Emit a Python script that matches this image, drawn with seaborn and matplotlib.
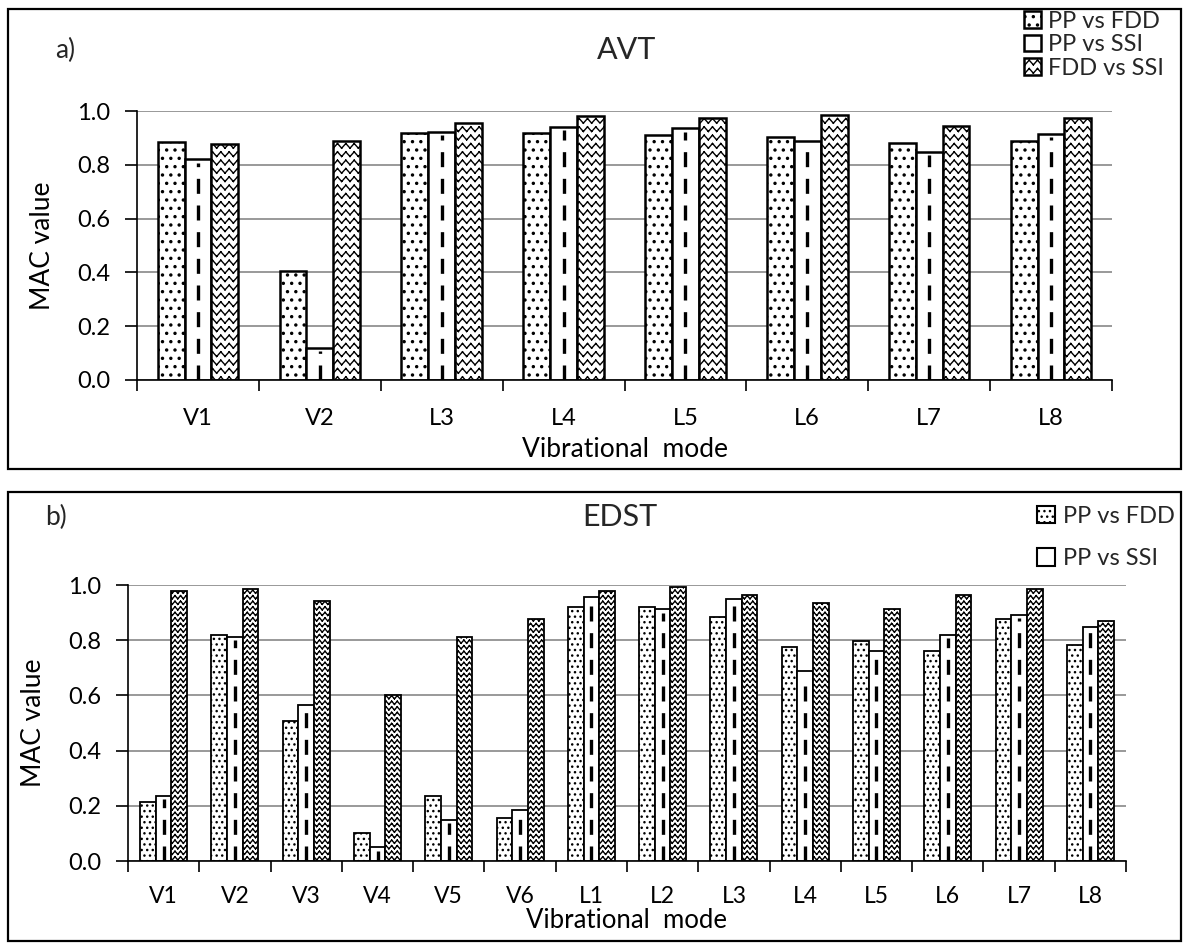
import warnings
warnings.filterwarnings("ignore")
import numpy as np
import pandas as pd
import matplotlib
matplotlib.use("Agg")
import matplotlib.pyplot as plt
import seaborn as sns
from matplotlib import hatch as mhatch
from matplotlib.path import Path
from matplotlib.patches import Patch, Rectangle
from matplotlib.ticker import FixedLocator, FormatStrFormatter

# ---------------- data ----------------
pairs = ["PP vs FDD", "PP vs SSI", "FDD vs SSI"]

modes_a = ["V1", "V2", "L3", "L4", "L5", "L6", "L7", "L8"]
pp_fdd_a = [0.885, 0.407, 0.920, 0.918, 0.911, 0.904, 0.881, 0.890]
pp_ssi_a = [0.820, 0.120, 0.922, 0.940, 0.935, 0.889, 0.848, 0.915]
fdd_ssi_a = [0.877, 0.890, 0.955, 0.980, 0.975, 0.985, 0.945, 0.975]

modes_b = ["V1", "V2", "V3", "V4", "V5", "V6", "L1", "L2", "L3", "L4", "L5", "L6", "L7", "L8"]
pp_fdd_b = [0.215, 0.820, 0.506, 0.100, 0.237, 0.157, 0.921, 0.921, 0.884, 0.775, 0.797, 0.760, 0.877, 0.782]
pp_ssi_b = [0.237, 0.811, 0.565, 0.050, 0.149, 0.186, 0.957, 0.912, 0.950, 0.687, 0.760, 0.819, 0.891, 0.848]
fdd_ssi_b = [0.979, 0.986, 0.943, 0.600, 0.811, 0.877, 0.979, 0.994, 0.964, 0.935, 0.913, 0.964, 0.986, 0.869]

yticks = [0.0, 0.2, 0.4, 0.6, 0.8, 1.0]


# ------------- custom hatches -------------
class ZigZagHatch(mhatch.HatchPatternBase):
    """Horizontal zigzag lines, drawn as separate segments (no fill)."""
    def __init__(self, hatch, density):
        self.num_lines = int(hatch.count('z') * density)
        self.teeth = self.num_lines
        self.nseg = 2 * self.teeth
        self.num_vertices = self.num_lines * self.nseg * 2

    def set_vertices_and_codes(self, vertices, codes):
        n = self.num_lines
        if n == 0:
            return
        step = 1.0 / n
        npts = self.nseg + 1
        xs = np.linspace(0.0, 1.0, npts)
        amp = 0.28 * step
        offs = np.where(np.arange(npts) % 2 == 0, -amp, amp)
        k = 0
        for i in range(n):
            y0 = (i + 0.5) * step
            ys = y0 + offs
            for j in range(self.nseg):
                vertices[k] = (xs[j], ys[j])
                vertices[k + 1] = (xs[j + 1], ys[j + 1])
                codes[k] = Path.MOVETO
                codes[k + 1] = Path.LINETO
                k += 2


class BigDots(mhatch.SmallFilledCircles):
    size = 0.12

    def __init__(self, hatch, density):
        self.num_rows = hatch.count('d') * density
        mhatch.Circles.__init__(self, hatch, density)


mhatch._hatch_types.append(ZigZagHatch)
mhatch._hatch_types.append(BigDots)

# ---------------- style ----------------
sns.set_theme(style="white")
plt.rcParams['font.family'] = ['Lato', 'DejaVu Sans']
plt.rcParams['hatch.linewidth'] = 1.0
plt.rcParams['hatch.color'] = 'black'

W, H = 1187, 944
fig = plt.figure(figsize=(W / 100, H / 100), dpi=100)
fig.patch.set_facecolor('white')


def make_df(modes, a, b, c):
    rows = []
    for vals, p in zip([a, b, c], pairs):
        for m, v in zip(modes, vals):
            rows.append({"mode": m, "pair": p, "value": v})
    return pd.DataFrame(rows)


def draw_panel(rect, modes, a, b, c, dots, zig, bar_lw, tick_pad, xlab_pad,
               xtick_fs, xlab_fs):
    ax = fig.add_axes(rect)
    df = make_df(modes, a, b, c)
    sns.barplot(data=df, x="mode", y="value", hue="pair", order=modes,
                hue_order=pairs, palette=["white"] * 3, edgecolor="black",
                linewidth=bar_lw, width=0.66, gap=0, legend=False, ax=ax,
                errorbar=None, zorder=3)
    hatches = [dots, "", zig]
    for cont, h in zip(ax.containers, hatches):
        for bar in cont:
            bar.set_hatch(h)
            bar.set_zorder(3)
    for bar in ax.containers[1]:
        xc = bar.get_x() + bar.get_width() / 2
        ax.vlines(xc, 0, bar.get_height() - 0.012, colors="black", linewidth=2.4,
                  linestyles=(0, (4.5, 3.5)), zorder=4)
    n = len(modes)
    ax.set_xlim(-0.5, n - 0.5)
    ax.set_ylim(0, 1.0)
    ax.yaxis.set_major_locator(FixedLocator(yticks))
    ax.yaxis.set_major_formatter(FormatStrFormatter('%.1f'))
    ax.xaxis.set_minor_locator(FixedLocator(np.arange(-0.5, n, 1.0)))
    ax.tick_params(axis='x', which='major', length=0, labelsize=xtick_fs,
                   pad=tick_pad, colors='black')
    ax.tick_params(axis='x', which='minor', length=8, width=1.2, direction='out',
                   color='black', bottom=True)
    ax.tick_params(axis='y', which='major', length=9, width=1.2, direction='out',
                   labelsize=17, pad=10, colors='black', left=True)
    ax.grid(axis='y', color='#999999', linewidth=1.4, zorder=0)
    ax.set_axisbelow(True)
    for s in ['top', 'right']:
        ax.spines[s].set_visible(False)
    for s in ['left', 'bottom']:
        ax.spines[s].set_color('black')
        ax.spines[s].set_linewidth(1.2)
        ax.spines[s].set_zorder(5)
    ax.set_xlabel("Vibrational  mode", fontsize=xlab_fs, color='black', labelpad=xlab_pad)
    ax.set_ylabel("MAC value", fontsize=19, color='black', labelpad=16)
    return ax


# panel a
ax1 = draw_panel([137 / W, 1 - 380 / H, 975 / W, 269 / H], modes_a,
                 pp_fdd_a, pp_ssi_a, fdd_ssi_a, "dd", "zz", 1.8, 20, 6, 17, 19)
# panel b
ax2 = draw_panel([128 / W, 1 - 861 / H, 998 / W, 276 / H], modes_b,
                 pp_fdd_b, pp_ssi_b, fdd_ssi_b, "...", "zzz", 1.3, 18, 1, 16.5, 18.5)

# titles and tags
fig.text(627 / W, 1 - 50 / H, "AVT", fontsize=22, ha='center', va='center')
fig.text(620 / W, 1 - 517 / H, "EDST", fontsize=22, ha='center', va='center')
fig.text(55 / W, 1 - 50 / H, "a)", fontsize=19, ha='left', va='center')
fig.text(45 / W, 1 - 517 / H, "b)", fontsize=19, ha='left', va='center')

# frames
fig.add_artist(Rectangle((8 / W, 1 - 469 / H), (1181 - 8) / W, (469 - 9) / H,
                         transform=fig.transFigure, fill=False, ec='black', lw=1.6))
fig.add_artist(Rectangle((8 / W, 1 - 941 / H), (1181 - 8) / W, (941 - 492) / H,
                         transform=fig.transFigure, fill=False, ec='black', lw=1.6))

# legends
hatch_a = ["dd", "", "zz"]
handles_a = [Patch(facecolor='white', edgecolor='black', hatch=h, lw=1.8, label=p)
             for h, p in zip(hatch_a, pairs)]
fig.legend(handles=handles_a, loc='upper left',
           bbox_to_anchor=(1024 / W, 1 - 11 / H), frameon=False,
           fontsize=17, handlelength=0.7, handleheight=0.7,
           handletextpad=0.3, labelspacing=0.1, borderpad=0,
           borderaxespad=0)
hatch_b = ["...", ""]
handles_b = [Patch(facecolor='white', edgecolor='black', hatch=h, lw=1.5, label=p)
             for h, p in zip(hatch_b, pairs[:2])]
fig.legend(handles=handles_b, loc='upper left',
           bbox_to_anchor=(1037 / W, 1 - 506 / H), frameon=False,
           fontsize=17, handlelength=0.75, handleheight=0.75,
           handletextpad=0.35, labelspacing=0.9, borderpad=0,
           borderaxespad=0)

fig.savefig("out.png", dpi=100, facecolor='white')
